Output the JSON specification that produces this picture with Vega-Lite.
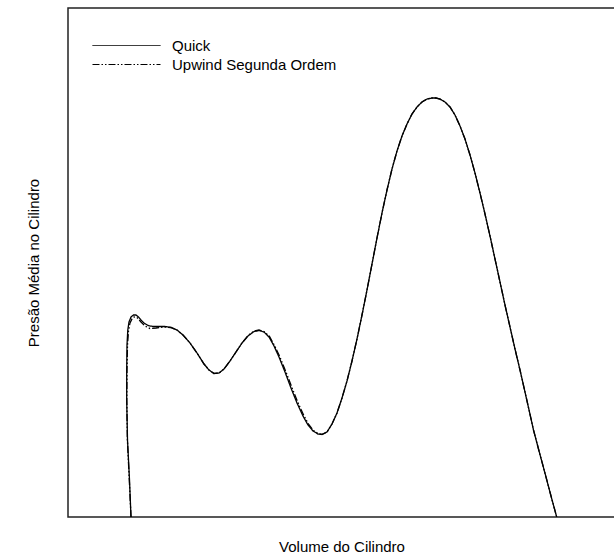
{
  "$schema": "https://vega.github.io/schema/vega-lite/v6.json",
  "width": 547,
  "height": 509,
  "autosize": {"type": "none"},
  "padding": {"left": 68, "top": 8, "right": 0, "bottom": 42},
  "background": "white",
  "config": {
    "view": {"stroke": "#222222", "strokeWidth": 1.5},
    "font": "Liberation Sans",
    "axis": {
      "domain": false,
      "ticks": false,
      "labels": false,
      "grid": false,
      "titleFont": "Liberation Sans",
      "titleFontSize": 15,
      "titleFontWeight": "normal",
      "titleColor": "#000000"
    }
  },
  "data": {
    "values": [
      {"serie": "Quick", "ponto": 1, "volume": 63, "pressao": 0},
      {"serie": "Quick", "ponto": 2, "volume": 61.5, "pressao": 37},
      {"serie": "Quick", "ponto": 3, "volume": 59.5, "pressao": 77},
      {"serie": "Quick", "ponto": 4, "volume": 58.7, "pressao": 117},
      {"serie": "Quick", "ponto": 5, "volume": 58.7, "pressao": 147},
      {"serie": "Quick", "ponto": 6, "volume": 59, "pressao": 172},
      {"serie": "Quick", "ponto": 7, "volume": 59.8, "pressao": 187},
      {"serie": "Quick", "ponto": 8, "volume": 61, "pressao": 195},
      {"serie": "Quick", "ponto": 9, "volume": 63, "pressao": 200},
      {"serie": "Quick", "ponto": 10, "volume": 65.5, "pressao": 202},
      {"serie": "Quick", "ponto": 11, "volume": 68, "pressao": 202},
      {"serie": "Quick", "ponto": 12, "volume": 70.5, "pressao": 200},
      {"serie": "Quick", "ponto": 13, "volume": 73, "pressao": 197},
      {"serie": "Quick", "ponto": 14, "volume": 76, "pressao": 194},
      {"serie": "Quick", "ponto": 15, "volume": 80, "pressao": 191.5},
      {"serie": "Quick", "ponto": 16, "volume": 85, "pressao": 190.5},
      {"serie": "Quick", "ponto": 17, "volume": 90, "pressao": 190.5},
      {"serie": "Quick", "ponto": 18, "volume": 97, "pressao": 190.5},
      {"serie": "Quick", "ponto": 19, "volume": 103, "pressao": 189.5},
      {"serie": "Quick", "ponto": 20, "volume": 109, "pressao": 187},
      {"serie": "Quick", "ponto": 21, "volume": 115, "pressao": 182},
      {"serie": "Quick", "ponto": 22, "volume": 122, "pressao": 174},
      {"serie": "Quick", "ponto": 23, "volume": 129, "pressao": 164},
      {"serie": "Quick", "ponto": 24, "volume": 136, "pressao": 153},
      {"serie": "Quick", "ponto": 25, "volume": 141, "pressao": 147},
      {"serie": "Quick", "ponto": 26, "volume": 146, "pressao": 143.5},
      {"serie": "Quick", "ponto": 27, "volume": 151, "pressao": 144},
      {"serie": "Quick", "ponto": 28, "volume": 156, "pressao": 148},
      {"serie": "Quick", "ponto": 29, "volume": 162, "pressao": 156},
      {"serie": "Quick", "ponto": 30, "volume": 168, "pressao": 165},
      {"serie": "Quick", "ponto": 31, "volume": 174, "pressao": 174},
      {"serie": "Quick", "ponto": 32, "volume": 180, "pressao": 181},
      {"serie": "Quick", "ponto": 33, "volume": 186, "pressao": 185.5},
      {"serie": "Quick", "ponto": 34, "volume": 191, "pressao": 186.5},
      {"serie": "Quick", "ponto": 35, "volume": 196, "pressao": 185},
      {"serie": "Quick", "ponto": 36, "volume": 201, "pressao": 180},
      {"serie": "Quick", "ponto": 37, "volume": 206, "pressao": 171},
      {"serie": "Quick", "ponto": 38, "volume": 211, "pressao": 160},
      {"serie": "Quick", "ponto": 39, "volume": 217, "pressao": 145},
      {"serie": "Quick", "ponto": 40, "volume": 223, "pressao": 129},
      {"serie": "Quick", "ponto": 41, "volume": 229, "pressao": 114},
      {"serie": "Quick", "ponto": 42, "volume": 235, "pressao": 101},
      {"serie": "Quick", "ponto": 43, "volume": 240, "pressao": 92},
      {"serie": "Quick", "ponto": 44, "volume": 245, "pressao": 86},
      {"serie": "Quick", "ponto": 45, "volume": 250, "pressao": 83},
      {"serie": "Quick", "ponto": 46, "volume": 254, "pressao": 82.5},
      {"serie": "Quick", "ponto": 47, "volume": 259, "pressao": 85},
      {"serie": "Quick", "ponto": 48, "volume": 264, "pressao": 93},
      {"serie": "Quick", "ponto": 49, "volume": 269, "pressao": 104},
      {"serie": "Quick", "ponto": 50, "volume": 274, "pressao": 119},
      {"serie": "Quick", "ponto": 51, "volume": 279, "pressao": 136},
      {"serie": "Quick", "ponto": 52, "volume": 284, "pressao": 156},
      {"serie": "Quick", "ponto": 53, "volume": 289, "pressao": 178},
      {"serie": "Quick", "ponto": 54, "volume": 294, "pressao": 202},
      {"serie": "Quick", "ponto": 55, "volume": 299, "pressao": 227},
      {"serie": "Quick", "ponto": 56, "volume": 304, "pressao": 253},
      {"serie": "Quick", "ponto": 57, "volume": 309, "pressao": 279},
      {"serie": "Quick", "ponto": 58, "volume": 314, "pressao": 304},
      {"serie": "Quick", "ponto": 59, "volume": 319, "pressao": 327},
      {"serie": "Quick", "ponto": 60, "volume": 324, "pressao": 348},
      {"serie": "Quick", "ponto": 61, "volume": 329, "pressao": 366},
      {"serie": "Quick", "ponto": 62, "volume": 334, "pressao": 381},
      {"serie": "Quick", "ponto": 63, "volume": 339, "pressao": 393},
      {"serie": "Quick", "ponto": 64, "volume": 344, "pressao": 403},
      {"serie": "Quick", "ponto": 65, "volume": 349, "pressao": 410},
      {"serie": "Quick", "ponto": 66, "volume": 354, "pressao": 415},
      {"serie": "Quick", "ponto": 67, "volume": 359, "pressao": 418},
      {"serie": "Quick", "ponto": 68, "volume": 364, "pressao": 419},
      {"serie": "Quick", "ponto": 69, "volume": 368, "pressao": 419},
      {"serie": "Quick", "ponto": 70, "volume": 372, "pressao": 418},
      {"serie": "Quick", "ponto": 71, "volume": 377, "pressao": 415},
      {"serie": "Quick", "ponto": 72, "volume": 382, "pressao": 410},
      {"serie": "Quick", "ponto": 73, "volume": 387, "pressao": 402},
      {"serie": "Quick", "ponto": 74, "volume": 392, "pressao": 391},
      {"serie": "Quick", "ponto": 75, "volume": 397, "pressao": 378},
      {"serie": "Quick", "ponto": 76, "volume": 402, "pressao": 362},
      {"serie": "Quick", "ponto": 77, "volume": 407, "pressao": 344},
      {"serie": "Quick", "ponto": 78, "volume": 412, "pressao": 324},
      {"serie": "Quick", "ponto": 79, "volume": 417, "pressao": 303},
      {"serie": "Quick", "ponto": 80, "volume": 422, "pressao": 281},
      {"serie": "Quick", "ponto": 81, "volume": 427, "pressao": 258},
      {"serie": "Quick", "ponto": 82, "volume": 432, "pressao": 235},
      {"serie": "Quick", "ponto": 83, "volume": 437, "pressao": 212},
      {"serie": "Quick", "ponto": 84, "volume": 442, "pressao": 190},
      {"serie": "Quick", "ponto": 85, "volume": 447, "pressao": 168},
      {"serie": "Quick", "ponto": 86, "volume": 452, "pressao": 147},
      {"serie": "Quick", "ponto": 87, "volume": 458.8, "pressao": 117},
      {"serie": "Quick", "ponto": 88, "volume": 465.5, "pressao": 87},
      {"serie": "Quick", "ponto": 89, "volume": 471.3, "pressao": 65},
      {"serie": "Quick", "ponto": 90, "volume": 477.2, "pressao": 43},
      {"serie": "Quick", "ponto": 91, "volume": 483, "pressao": 21},
      {"serie": "Quick", "ponto": 92, "volume": 488.7, "pressao": 0},

      {"serie": "Upwind Segunda Ordem", "ponto": 1, "volume": 63, "pressao": 0},
      {"serie": "Upwind Segunda Ordem", "ponto": 2, "volume": 61.3, "pressao": 37},
      {"serie": "Upwind Segunda Ordem", "ponto": 3, "volume": 59.4, "pressao": 77},
      {"serie": "Upwind Segunda Ordem", "ponto": 4, "volume": 58.8, "pressao": 117},
      {"serie": "Upwind Segunda Ordem", "ponto": 5, "volume": 59, "pressao": 147},
      {"serie": "Upwind Segunda Ordem", "ponto": 6, "volume": 59.5, "pressao": 172},
      {"serie": "Upwind Segunda Ordem", "ponto": 7, "volume": 60.5, "pressao": 186},
      {"serie": "Upwind Segunda Ordem", "ponto": 8, "volume": 62, "pressao": 194},
      {"serie": "Upwind Segunda Ordem", "ponto": 9, "volume": 64, "pressao": 198},
      {"serie": "Upwind Segunda Ordem", "ponto": 10, "volume": 66, "pressao": 200},
      {"serie": "Upwind Segunda Ordem", "ponto": 11, "volume": 69, "pressao": 199.5},
      {"serie": "Upwind Segunda Ordem", "ponto": 12, "volume": 73, "pressao": 195},
      {"serie": "Upwind Segunda Ordem", "ponto": 13, "volume": 77, "pressao": 191},
      {"serie": "Upwind Segunda Ordem", "ponto": 14, "volume": 82, "pressao": 188.5},
      {"serie": "Upwind Segunda Ordem", "ponto": 15, "volume": 88, "pressao": 189},
      {"serie": "Upwind Segunda Ordem", "ponto": 16, "volume": 95, "pressao": 190},
      {"serie": "Upwind Segunda Ordem", "ponto": 17, "volume": 103, "pressao": 189.5},
      {"serie": "Upwind Segunda Ordem", "ponto": 18, "volume": 109, "pressao": 187},
      {"serie": "Upwind Segunda Ordem", "ponto": 19, "volume": 115, "pressao": 182},
      {"serie": "Upwind Segunda Ordem", "ponto": 20, "volume": 122, "pressao": 174},
      {"serie": "Upwind Segunda Ordem", "ponto": 21, "volume": 129, "pressao": 164},
      {"serie": "Upwind Segunda Ordem", "ponto": 22, "volume": 136, "pressao": 153},
      {"serie": "Upwind Segunda Ordem", "ponto": 23, "volume": 141, "pressao": 147},
      {"serie": "Upwind Segunda Ordem", "ponto": 24, "volume": 146, "pressao": 143.5},
      {"serie": "Upwind Segunda Ordem", "ponto": 25, "volume": 151, "pressao": 144},
      {"serie": "Upwind Segunda Ordem", "ponto": 26, "volume": 156, "pressao": 148},
      {"serie": "Upwind Segunda Ordem", "ponto": 27, "volume": 162, "pressao": 156},
      {"serie": "Upwind Segunda Ordem", "ponto": 28, "volume": 168, "pressao": 165},
      {"serie": "Upwind Segunda Ordem", "ponto": 29, "volume": 174, "pressao": 174},
      {"serie": "Upwind Segunda Ordem", "ponto": 30, "volume": 180, "pressao": 181.5},
      {"serie": "Upwind Segunda Ordem", "ponto": 31, "volume": 186, "pressao": 186},
      {"serie": "Upwind Segunda Ordem", "ponto": 32, "volume": 191, "pressao": 187},
      {"serie": "Upwind Segunda Ordem", "ponto": 33, "volume": 196, "pressao": 185.5},
      {"serie": "Upwind Segunda Ordem", "ponto": 34, "volume": 201.5, "pressao": 180.5},
      {"serie": "Upwind Segunda Ordem", "ponto": 35, "volume": 206.5, "pressao": 171.5},
      {"serie": "Upwind Segunda Ordem", "ponto": 36, "volume": 211.7, "pressao": 160.5},
      {"serie": "Upwind Segunda Ordem", "ponto": 37, "volume": 217.8, "pressao": 145.5},
      {"serie": "Upwind Segunda Ordem", "ponto": 38, "volume": 223.9, "pressao": 129.5},
      {"serie": "Upwind Segunda Ordem", "ponto": 39, "volume": 229.9, "pressao": 114.5},
      {"serie": "Upwind Segunda Ordem", "ponto": 40, "volume": 235.8, "pressao": 101.5},
      {"serie": "Upwind Segunda Ordem", "ponto": 41, "volume": 240.7, "pressao": 92.5},
      {"serie": "Upwind Segunda Ordem", "ponto": 42, "volume": 245.5, "pressao": 86.5},
      {"serie": "Upwind Segunda Ordem", "ponto": 43, "volume": 250.3, "pressao": 83.3},
      {"serie": "Upwind Segunda Ordem", "ponto": 44, "volume": 254.2, "pressao": 82.7},
      {"serie": "Upwind Segunda Ordem", "ponto": 45, "volume": 259, "pressao": 85},
      {"serie": "Upwind Segunda Ordem", "ponto": 46, "volume": 264, "pressao": 93},
      {"serie": "Upwind Segunda Ordem", "ponto": 47, "volume": 269, "pressao": 104},
      {"serie": "Upwind Segunda Ordem", "ponto": 48, "volume": 274, "pressao": 119},
      {"serie": "Upwind Segunda Ordem", "ponto": 49, "volume": 279, "pressao": 136},
      {"serie": "Upwind Segunda Ordem", "ponto": 50, "volume": 284, "pressao": 156},
      {"serie": "Upwind Segunda Ordem", "ponto": 51, "volume": 289, "pressao": 178},
      {"serie": "Upwind Segunda Ordem", "ponto": 52, "volume": 294, "pressao": 202},
      {"serie": "Upwind Segunda Ordem", "ponto": 53, "volume": 299, "pressao": 227},
      {"serie": "Upwind Segunda Ordem", "ponto": 54, "volume": 304, "pressao": 253},
      {"serie": "Upwind Segunda Ordem", "ponto": 55, "volume": 309, "pressao": 279},
      {"serie": "Upwind Segunda Ordem", "ponto": 56, "volume": 314, "pressao": 304},
      {"serie": "Upwind Segunda Ordem", "ponto": 57, "volume": 319, "pressao": 327},
      {"serie": "Upwind Segunda Ordem", "ponto": 58, "volume": 324, "pressao": 348},
      {"serie": "Upwind Segunda Ordem", "ponto": 59, "volume": 329, "pressao": 366},
      {"serie": "Upwind Segunda Ordem", "ponto": 60, "volume": 334, "pressao": 381},
      {"serie": "Upwind Segunda Ordem", "ponto": 61, "volume": 339, "pressao": 393},
      {"serie": "Upwind Segunda Ordem", "ponto": 62, "volume": 344, "pressao": 403},
      {"serie": "Upwind Segunda Ordem", "ponto": 63, "volume": 349, "pressao": 410},
      {"serie": "Upwind Segunda Ordem", "ponto": 64, "volume": 354, "pressao": 415},
      {"serie": "Upwind Segunda Ordem", "ponto": 65, "volume": 359, "pressao": 418},
      {"serie": "Upwind Segunda Ordem", "ponto": 66, "volume": 364, "pressao": 419},
      {"serie": "Upwind Segunda Ordem", "ponto": 67, "volume": 368, "pressao": 419},
      {"serie": "Upwind Segunda Ordem", "ponto": 68, "volume": 372, "pressao": 418},
      {"serie": "Upwind Segunda Ordem", "ponto": 69, "volume": 377, "pressao": 415},
      {"serie": "Upwind Segunda Ordem", "ponto": 70, "volume": 382, "pressao": 410},
      {"serie": "Upwind Segunda Ordem", "ponto": 71, "volume": 387, "pressao": 402},
      {"serie": "Upwind Segunda Ordem", "ponto": 72, "volume": 392, "pressao": 391},
      {"serie": "Upwind Segunda Ordem", "ponto": 73, "volume": 397, "pressao": 378},
      {"serie": "Upwind Segunda Ordem", "ponto": 74, "volume": 402, "pressao": 362},
      {"serie": "Upwind Segunda Ordem", "ponto": 75, "volume": 407, "pressao": 344},
      {"serie": "Upwind Segunda Ordem", "ponto": 76, "volume": 412, "pressao": 324},
      {"serie": "Upwind Segunda Ordem", "ponto": 77, "volume": 417, "pressao": 303},
      {"serie": "Upwind Segunda Ordem", "ponto": 78, "volume": 422, "pressao": 281},
      {"serie": "Upwind Segunda Ordem", "ponto": 79, "volume": 427, "pressao": 258},
      {"serie": "Upwind Segunda Ordem", "ponto": 80, "volume": 432, "pressao": 235},
      {"serie": "Upwind Segunda Ordem", "ponto": 81, "volume": 437, "pressao": 212},
      {"serie": "Upwind Segunda Ordem", "ponto": 82, "volume": 442, "pressao": 190},
      {"serie": "Upwind Segunda Ordem", "ponto": 83, "volume": 447, "pressao": 168},
      {"serie": "Upwind Segunda Ordem", "ponto": 84, "volume": 452, "pressao": 147},
      {"serie": "Upwind Segunda Ordem", "ponto": 85, "volume": 458.8, "pressao": 117},
      {"serie": "Upwind Segunda Ordem", "ponto": 86, "volume": 465.5, "pressao": 87},
      {"serie": "Upwind Segunda Ordem", "ponto": 87, "volume": 471.3, "pressao": 65},
      {"serie": "Upwind Segunda Ordem", "ponto": 88, "volume": 477.2, "pressao": 43},
      {"serie": "Upwind Segunda Ordem", "ponto": 89, "volume": 483, "pressao": 21},
      {"serie": "Upwind Segunda Ordem", "ponto": 90, "volume": 488.7, "pressao": 0}
    ]
  },
  "mark": {"type": "line", "strokeWidth": 1.3, "color": "#000000", "clip": true},
  "encoding": {
    "x": {
      "field": "volume",
      "type": "quantitative",
      "scale": {"domain": [0, 547], "nice": false, "zero": false},
      "axis": {"title": "Volume do Cilindro", "titlePadding": 22}
    },
    "y": {
      "field": "pressao",
      "type": "quantitative",
      "scale": {"domain": [0, 509], "nice": false, "zero": false},
      "axis": {"title": "Presão Média no Cilindro", "titlePadding": 27}
    },
    "order": {"field": "ponto", "type": "quantitative"},
    "strokeDash": {
      "field": "serie",
      "type": "nominal",
      "scale": {
        "domain": ["Quick", "Upwind Segunda Ordem"],
        "range": [[1, 0], [7, 2, 1.5, 2, 1.5, 2]]
      },
      "legend": {
        "title": null,
        "orient": "none",
        "legendX": 51,
        "legendY": 30,
        "padding": 0,
        "symbolType": "M-5,0H5",
        "symbolSize": 185,
        "symbolStrokeColor": "#000000",
        "symbolStrokeWidth": 1,
        "labelFont": "Liberation Sans",
        "labelFontSize": 15,
        "labelColor": "#000000",
        "labelOffset": 38,
        "labelLimit": 400,
        "rowPadding": 3
      }
    }
  }
}
